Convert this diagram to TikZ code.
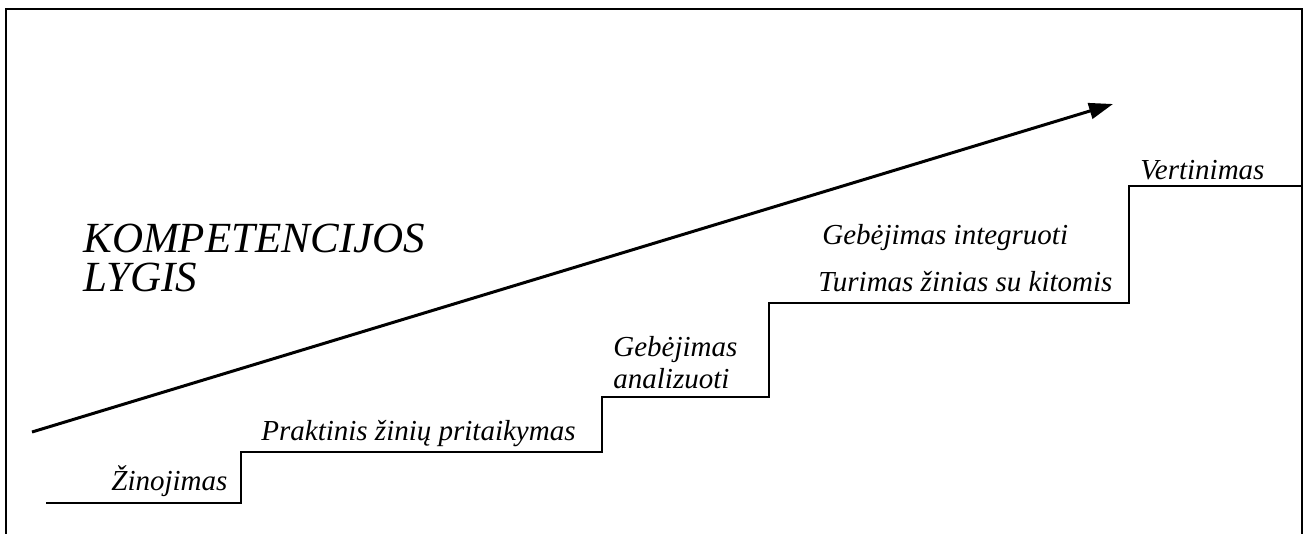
\documentclass[tikz,border=0pt]{standalone}
\usepackage{fontspec}
\setmainfont{Liberation Serif}
\usetikzlibrary{arrows.meta}

\begin{document}
\begin{tikzpicture}[x=0.5pt,y=-0.5pt,>={Triangle[length=12pt,width=8pt]}]
    \tikzset{steplabel/.style={anchor=base west,inner sep=0pt,font=\fontsize{14.5}{16}\selectfont\itshape},
             stairline/.style={line width=1pt},
             frameline/.style={line width=1.1pt}}
    \useasboundingbox (0,0) rectangle (1306,534);
    % open frame
    \draw[frameline] (6,534) -- (6,9) -- (1302,9) -- (1302,534);
    % stair corners
    \coordinate (s0) at (46,503);
    \coordinate (s1) at (241,452);
    \coordinate (s2) at (602,397);
    \coordinate (s3) at (769,303);
    \coordinate (s4) at (1129,186);
    \coordinate (s5) at (1302,186);
    \draw[stairline] (s0) -| (s1) -| (s2) -| (s3) -| (s4) -- (s5);
    % growth arrow
    \coordinate (arrowtail) at (32,432);
    \coordinate (arrowhead) at (1113,104);
    \draw[->,line width=1.5pt] (arrowtail) -- (arrowhead);
    % labels
    \node[steplabel,font=\fontsize{21.5}{19.5}\selectfont\itshape,align=left] (title) at (83,292) {KOMPETENCIJOS\\LYGIS};
    \node[steplabel] (knowledge) at (111,490) {Žinojimas};
    \node[steplabel] (practice) at (261,440) {Praktinis žinių pritaikymas};
    \node[steplabel,align=left] (analysis) at (613,388) {Gebėjimas\\analizuoti};
    \node[steplabel] (integrate) at (822,245) {Gebėjimas integruoti};
    \node[steplabel] (others) at (818,292) {Turimas žinias su kitomis};
    \node[steplabel] (evaluate) at (1140,180) {Vertinimas};
\end{tikzpicture}
\end{document}
